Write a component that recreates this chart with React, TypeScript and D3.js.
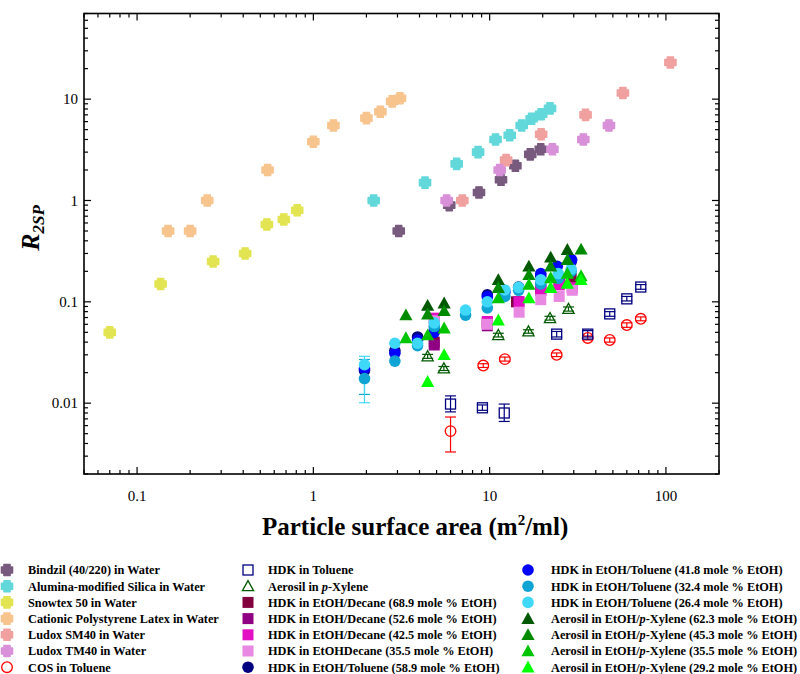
import * as d3 from 'd3'
import { useEffect } from 'react'

// each point: [surface area, R2SP, lower, upper]  (lower/upper only where error bars show)
type Pt = number[]

// dispersions in water
const bindzil: Pt[] = [[3.05, 0.5], [5.9, 0.9], [8.7, 1.2], [11.6, 1.6], [14, 2.2], [17, 2.85], [19.5, 3.2]]
const alumina: Pt[] = [[2.2, 1], [4.3, 1.5], [6.5, 2.3], [8.6, 3], [10.8, 4], [13, 4.4], [15.2, 5.5], [17.3, 6.4], [19.6, 7.1], [22, 8.1]]
const snowtex: Pt[] = [[0.07, 0.05], [0.136, 0.15], [0.27, 0.25], [0.41, 0.3], [0.545, 0.58], [0.68, 0.65], [0.81, 0.8]]
const latex: Pt[] = [[0.15, 0.5], [0.2, 0.5], [0.25, 1], [0.55, 2], [1, 3.8], [1.3, 5.5], [2, 6.5], [2.4, 7.5], [2.8, 9.5], [3.1, 10.2]]
const ludoxSM: Pt[] = [[7, 1], [12.4, 2.5], [19.6, 4.5], [35, 7], [57, 11.5], [106, 23]]
const ludoxTM: Pt[] = [[5.7, 1], [11.4, 2], [22.7, 3.2], [34, 4], [47.5, 5.5]]

// organic media
const cos: Pt[] = [
  [6, 0.0053, 0.0033, 0.0073], [9.2, 0.0235, 0.0225, 0.0245], [12.2, 0.0272, 0.026, 0.0285], [24, 0.03, 0.0288, 0.0313],
  [36, 0.044, 0.042, 0.046], [48, 0.042, 0.04, 0.044], [60, 0.059, 0.056, 0.062], [72, 0.068, 0.065, 0.071],
]
const hdkToluene: Pt[] = [
  [6, 0.0098, 0.0082, 0.0118], [9.1, 0.009, 0.0085, 0.0096], [12.1, 0.008, 0.0066, 0.0098], [24, 0.048, 0.045, 0.051],
  [36, 0.048, 0.045, 0.052], [48, 0.076, 0.072, 0.08], [60, 0.107, 0.102, 0.113], [72, 0.14, 0.133, 0.148],
]
const aerosilXylene: Pt[] = [
  [4.45, 0.029, 0.0277, 0.0303], [5.5, 0.022, 0.021, 0.023], [11.2, 0.047, 0.045, 0.049],
  [16.6, 0.051, 0.049, 0.053], [22, 0.069, 0.066, 0.072], [28, 0.085, 0.081, 0.089],
]
const decane689: Pt[] = [[4.85, 0.04], [9.7, 0.062], [14.2, 0.1], [19.5, 0.14], [24.8, 0.16], [29, 0.17]]
const decane526: Pt[] = [[4.85, 0.0375], [9.7, 0.058], [14.6, 0.1], [19.5, 0.13], [24.8, 0.15]]
const decane425: Pt[] = [[4.85, 0.069], [9.7, 0.064], [14.7, 0.1], [19.5, 0.13], [24.8, 0.147], [29.4, 0.138]]
const decane355: Pt[] = [[4.85, 0.065], [9.7, 0.06], [14.7, 0.079], [19.5, 0.105], [24.8, 0.113], [29.4, 0.13]]
const toluene589: Pt[] = [[1.95, 0.021, 0.018, 0.024], [2.9, 0.033], [3.9, 0.045], [4.85, 0.052], [9.7, 0.117], [14.6, 0.14], [19.5, 0.18], [29, 0.25]]
const toluene418: Pt[] = [[1.95, 0.022], [2.9, 0.031], [3.9, 0.042], [4.85, 0.05], [9.7, 0.112], [12.2, 0.125], [19.5, 0.19], [24.2, 0.224], [29.2, 0.26]]
const toluene324: Pt[] = [[1.95, 0.0175, 0.0122, 0.027], [2.9, 0.026], [3.9, 0.037], [4.85, 0.057], [7.3, 0.074], [9.7, 0.087], [12.2, 0.113], [14.6, 0.13], [19.5, 0.15], [24.5, 0.17], [29, 0.2]]
const toluene264: Pt[] = [[1.95, 0.024, 0.0101, 0.029], [2.9, 0.039], [3.9, 0.039], [4.85, 0.062], [7.3, 0.083], [9.7, 0.1], [12.2, 0.131], [14.6, 0.139], [19.5, 0.165], [24.5, 0.19], [29, 0.21]]
const xylene623: Pt[] = [[4.45, 0.092], [5.52, 0.097], [11.2, 0.165], [16.7, 0.224], [22.2, 0.275], [27.6, 0.327]]
const xylene453: Pt[] = [[3.35, 0.074], [4.45, 0.0755], [5.52, 0.0815], [11.2, 0.138], [16.7, 0.185], [22.2, 0.224], [27.6, 0.26], [33, 0.33]]
const xylene355: Pt[] = [[3.35, 0.044], [4.45, 0.047], [5.52, 0.055], [11.2, 0.109], [16.7, 0.148], [22.2, 0.172], [27.6, 0.19], [33, 0.18]]
const xylene292: Pt[] = [[4.45, 0.0163], [5.52, 0.03], [11.2, 0.066], [16.7, 0.109], [22.2, 0.138], [27.6, 0.152], [33, 0.165]]

const xTickLabels = [0.1, 1, 10, 100]
const yTickLabels = [0.01, 0.1, 1, 10]

const series = [
  { name: 'Bindzil (40/220) in Water', color: '#775a7d', shape: 'cross', open: false, data: bindzil },
  { name: 'Alumina-modified Silica in Water', color: '#62d8da', shape: 'cross', open: false, data: alumina },
  { name: 'Snowtex 50 in Water', color: '#e2e452', shape: 'cross', open: false, data: snowtex },
  { name: 'Cationic Polystyrene Latex in Water', color: '#f8c48e', shape: 'cross', open: false, data: latex },
  { name: 'Ludox SM40 in Water', color: '#f0a09e', shape: 'cross', open: false, data: ludoxSM },
  { name: 'Ludox TM40 in Water', color: '#d890d8', shape: 'cross', open: false, data: ludoxTM },
  { name: 'COS in Toluene', color: '#ff0000', shape: 'circle', open: true, data: cos },
  { name: 'HDK in Toluene', color: '#000080', shape: 'square', open: true, data: hdkToluene },
  { name: 'Aerosil in p-Xylene', color: '#005a00', shape: 'triangle', open: true, data: aerosilXylene },
  { name: 'HDK in EtOH/Decane (68.9 mole % EtOH)', color: '#82003c', shape: 'square', open: false, data: decane689 },
  { name: 'HDK in EtOH/Decane (52.6 mole % EtOH)', color: '#900082', shape: 'square', open: false, data: decane526 },
  { name: 'HDK in EtOH/Decane (42.5 mole % EtOH)', color: '#e210c2', shape: 'square', open: false, data: decane425 },
  { name: 'HDK in EtOHDecane (35.5 mole % EtOH)', color: '#e888e2', shape: 'square', open: false, data: decane355 },
  { name: 'HDK in EtOH/Toluene (58.9 mole % EtOH)', color: '#000080', shape: 'circle', open: false, data: toluene589 },
  { name: 'HDK in EtOH/Toluene (41.8 mole % EtOH)', color: '#0000ff', shape: 'circle', open: false, data: toluene418 },
  { name: 'HDK in EtOH/Toluene (32.4 mole % EtOH)', color: '#10a4d4', shape: 'circle', open: false, data: toluene324 },
  { name: 'HDK in EtOH/Toluene (26.4 mole % EtOH)', color: '#40d8f8', shape: 'circle', open: false, data: toluene264 },
  { name: 'Aerosil in EtOH/p-Xylene (62.3 mole % EtOH)', color: '#005800', shape: 'triangle', open: false, data: xylene623 },
  { name: 'Aerosil in EtOH/p-Xylene (45.3 mole % EtOH)', color: '#008a00', shape: 'triangle', open: false, data: xylene453 },
  { name: 'Aerosil in EtOH/p-Xylene (35.5 mole % EtOH)', color: '#00c400', shape: 'triangle', open: false, data: xylene355 },
  { name: 'Aerosil in EtOH/p-Xylene (29.2 mole % EtOH)', color: '#00ff00', shape: 'triangle', open: false, data: xylene292 },
]

const plot = { left: 84, right: 719, top: 13.5, bottom: 474 }
const x = d3.scaleLog().domain([0.05, 200]).range([plot.left, plot.right])
const y = d3.scaleLog().domain([0.002, 70]).range([plot.bottom, plot.top])

const isMajor = (t: number) => Math.abs(Math.log10(t) - Math.round(Math.log10(t))) < 1e-6
const fmt = (t: number) => String(+t.toPrecision(3))

const crossPath = (() => {
  const r = 5.6, a = 3.1
  return `M${-a},${-r}H${a}V${-a}H${r}V${a}H${a}V${r}H${-a}V${a}H${-r}V${-a}H${-a}Z`
})()

function Marker({ shape, color, open, cx, cy }: any) {
  const t = `translate(${cx},${cy})`
  if (shape === 'cross') {
    return <path d={crossPath} transform={t} fill={color} stroke={color} strokeWidth={1.4} strokeLinejoin="round" />
  }
  if (shape === 'circle') {
    return open
      ? <circle cx={cx} cy={cy} r={5.3} fill="none" stroke={color} strokeWidth={1.3} />
      : <circle cx={cx} cy={cy} r={5.8} fill={color} />
  }
  if (shape === 'square') {
    return open
      ? <rect x={cx - 5} y={cy - 5} width={10} height={10} fill="none" stroke={color} strokeWidth={1.3} />
      : <rect x={cx - 5.5} y={cy - 5.5} width={11} height={11} fill={color} />
  }
  const s = open ? 5.6 : 6.6
  return (
    <path d={`M0,${-s}L${s},${s * 0.8}L${-s},${s * 0.8}Z`} transform={t} fill={open ? 'none' : color}
      stroke={color} strokeWidth={open ? 1.3 : 0} />
  )
}

function Label({ text }: { text: string }) {
  const parts = text.split(/(p)(?=-Xylene)/)
  return <>{parts.map((p, i) => (p === 'p' ? <tspan key={i} fontStyle="italic">p</tspan> : <tspan key={i}>{p}</tspan>))}</>
}

export default function App() {
  useEffect(() => {
    document.body.style.margin = '0'
  }, [])

  const xTicks = x.ticks()
  const yTicks = y.ticks()
  const legendCols = [
    { mx: 7, tx: 28, items: series.slice(0, 7) },
    { mx: 248, tx: 268, items: series.slice(7, 14) },
    { mx: 528, tx: 551, items: series.slice(14, 21) },
  ]

  return (
    <svg width={800} height={674} style={{ position: 'absolute', left: 0, top: 0 }}
      fontFamily="'Liberation Serif', 'Times New Roman', serif">
      <rect width={800} height={674} fill="#fff" />

      {/* error bars */}
      {series.map((s, si) => (
        <g key={'e' + si} stroke={s.color} strokeWidth={1.2}>
          {s.data.filter((d) => d.length === 4).map((d, i) => (
            <g key={i}>
              <line x1={x(d[0])} x2={x(d[0])} y1={y(d[2])} y2={y(d[3])} />
              <line x1={x(d[0]) - 5.5} x2={x(d[0]) + 5.5} y1={y(d[2])} y2={y(d[2])} />
              <line x1={x(d[0]) - 5.5} x2={x(d[0]) + 5.5} y1={y(d[3])} y2={y(d[3])} />
            </g>
          ))}
        </g>
      ))}

      {/* points */}
      {series.map((s, si) => (
        <g key={'p' + si}>
          {s.data.map((d, i) => (
            <Marker key={i} shape={s.shape} color={s.color} open={s.open} cx={x(d[0])} cy={y(d[1])} />
          ))}
        </g>
      ))}

      {/* frame and ticks */}
      <g stroke="#000" strokeWidth={1.2}>
        {xTicks.map((t, i) => {
          const len = isMajor(t) ? 7 : 4
          return (
            <g key={'x' + i}>
              <line x1={x(t)} x2={x(t)} y1={plot.bottom} y2={plot.bottom - len} />
              <line x1={x(t)} x2={x(t)} y1={plot.top} y2={plot.top + len} />
            </g>
          )
        })}
        {yTicks.map((t, i) => {
          const len = isMajor(t) ? 7 : 4
          return (
            <g key={'y' + i}>
              <line x1={plot.left} x2={plot.left + len} y1={y(t)} y2={y(t)} />
              <line x1={plot.right} x2={plot.right - len} y1={y(t)} y2={y(t)} />
            </g>
          )
        })}
      </g>
      <rect x={plot.left} y={plot.top} width={plot.right - plot.left} height={plot.bottom - plot.top}
        fill="none" stroke="#000" strokeWidth={1.6} />

      {xTickLabels.map((t) => (
        <text key={t} x={x(t)} y={501} textAnchor="middle" fontSize={15}>{fmt(t)}</text>
      ))}
      {yTickLabels.map((t) => (
        <text key={t} x={78} y={y(t)} dy="0.35em" textAnchor="end" fontSize={15}>{fmt(t)}</text>
      ))}

      <text transform="translate(39,228) rotate(-90)" textAnchor="middle" fontWeight="bold" fontStyle="italic">
        <tspan fontSize={26}>R</tspan>
        <tspan fontSize={17} dy={5}>2SP</tspan>
      </text>
      <text x={262} y={535} fontSize={25} fontWeight="bold">
        Particle surface area (m<tspan fontSize={15} dy={-10}>2</tspan><tspan dy={10}>/ml)</tspan>
      </text>

      {/* legend */}
      {legendCols.map((c, ci) => (
        <g key={'l' + ci}>
          {c.items.map((s, i) => {
            const ly = 570 + i * 16.2
            return (
              <g key={i}>
                <Marker shape={s.shape} color={s.color} open={s.open} cx={c.mx} cy={ly} />
                <text x={c.tx} y={ly} dy="0.35em" fontSize={12.3} fontWeight="bold"><Label text={s.name} /></text>
              </g>
            )
          })}
        </g>
      ))}
    </svg>
  )
}
